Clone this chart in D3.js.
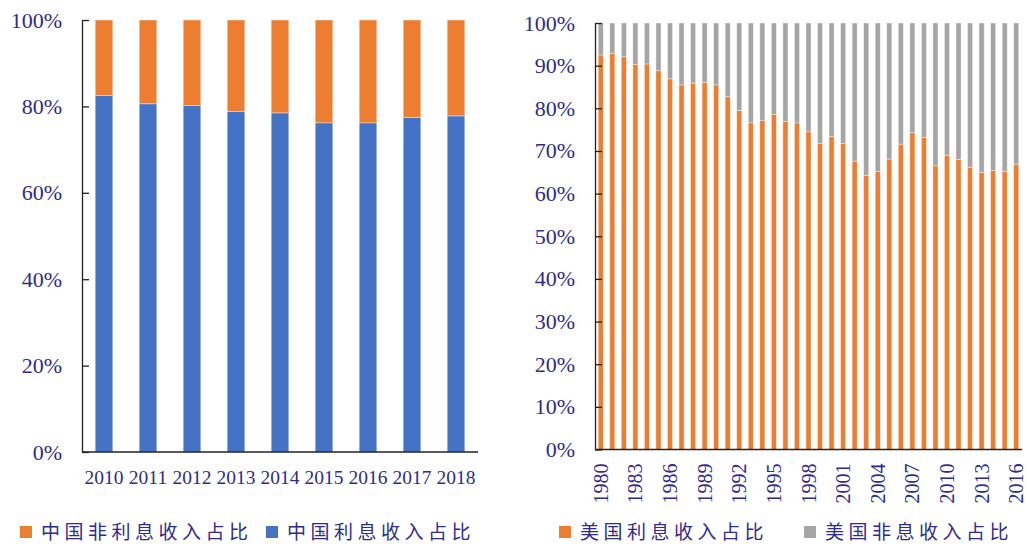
<!doctype html>
<html lang="zh">
<head>
<meta charset="utf-8">
<script src="https://cdn.jsdelivr.net/npm/d3@7/dist/d3.min.js"></script>
<style>
  body { margin: 0; background: #fff; }
  .tick text { font-family: "Liberation Serif", "DejaVu Serif", serif; fill: #2f2b8c; }
  .legend text { font-family: "Noto Sans CJK SC", sans-serif; fill: #2f2b8c; }
</style>
</head>
<body>
<script>
// Left chart: China
var cnYears = ['2010', '2011', '2012', '2013', '2014', '2015', '2016', '2017', '2018'];
var cnInterest = [82.5, 80.6, 80.2, 78.8, 78.5, 76.2, 76.2, 77.4, 77.8];
var cnNonInterest = [17.5, 19.4, 19.8, 21.2, 21.5, 23.8, 23.8, 22.6, 22.2];

// Right chart: US
var usYears = d3.range(1980, 2017).map(String);
var usInterest = [92.5, 92.9, 92.1, 90.3, 90.4, 88.8, 86.9, 85.5, 85.9, 86.1,
                  85.5, 82.8, 79.5, 76.6, 77.2, 78.6, 76.9, 76.6, 74.5, 71.7,
                  73.4, 71.7, 67.6, 64.3, 65.2, 68.1, 71.6, 74.3, 73.2, 66.5,
                  69.0, 68.0, 66.2, 65.0, 65.4, 65.2, 66.9];
var usNonInterest = [7.5, 7.1, 7.9, 9.7, 9.6, 11.2, 13.1, 14.5, 14.1, 13.9,
                     14.5, 17.2, 20.5, 23.4, 22.8, 21.4, 23.1, 23.4, 25.5, 28.3,
                     26.6, 28.3, 32.4, 35.7, 34.8, 31.9, 28.4, 25.7, 26.8, 33.5,
                     31.0, 32.0, 33.8, 35.0, 34.6, 34.8, 33.1];
var usLabelYears = ['1980', '1983', '1986', '1989', '1992', '1995', '1998', '2001',
                    '2004', '2007', '2010', '2013', '2016'];

var cnTicks = [0, 0.2, 0.4, 0.6, 0.8, 1];
var usTicks = [0, 0.1, 0.2, 0.3, 0.4, 0.5, 0.6, 0.7, 0.8, 0.9, 1];

var cnLegend = ['中国非利息收入占比', '中国利息收入占比'];
var usLegend = ['美国利息收入占比', '美国非息收入占比'];

var orange = '#ED7D31', blue = '#4472C4', gray = '#A5A5A5';

var svg = d3.select('body').append('svg')
    .attr('width', 1027)
    .attr('height', 544);

function drawChart(opt) {
    var rows = opt.years.map(function(y, i) {
        var r = { year: y };
        r.a = opt.bottom[i] / 100;
        r.b = opt.top[i] / 100;
        return r;
    });
    var stack = d3.stack().keys(['a', 'b'])(rows);

    var x = d3.scaleBand().domain(opt.years)
        .range([opt.left, opt.right])
        .paddingInner(opt.padInner)
        .paddingOuter(opt.padOuter);
    var y = d3.scaleLinear().domain([0, 1]).range([opt.bottomY, opt.topY]);

    var g = svg.append('g');

    g.selectAll('g.series')
        .data(stack)
        .enter().append('g')
        .attr('class', 'series')
        .attr('fill', function(d, i) { return opt.colors[i]; })
        .selectAll('rect')
        .data(function(d) { return d; })
        .enter().append('rect')
        .attr('x', function(d) { return x(d.data.year); })
        .attr('width', x.bandwidth())
        .attr('y', function(d) { return y(d[1]); })
        .attr('height', function(d) { return y(d[0]) - y(d[1]); })
        .attr('stroke', 'rgba(255,255,255,0.55)')
        .attr('stroke-width', 0.7);

    // y axis, ticks point inward
    var yAxis = d3.axisLeft(y)
        .tickValues(opt.yTicks)
        .tickFormat(d3.format('.0%'))
        .tickSizeInner(-7)
        .tickSizeOuter(0)
        .tickPadding(20);
    var ya = g.append('g')
        .attr('transform', 'translate(' + opt.left + ',0)')
        .call(yAxis);
    ya.selectAll('.tick text').style('font-size', '22px');
    ya.selectAll('line, path').attr('stroke', '#222').attr('stroke-width', 1.3);

    // x axis
    var xAxis = d3.axisBottom(x).tickSize(0).tickSizeOuter(0);
    if (opt.xTicks) xAxis.tickValues(opt.xTicks);
    var xa = g.append('g')
        .attr('transform', 'translate(0,' + opt.bottomY + ')')
        .call(xAxis);
    xa.select('path').attr('stroke', '#222').attr('stroke-width', 1.3)
        .attr('d', 'M' + opt.left + ',0H' + opt.right);
    if (opt.rotate) {
        xa.selectAll('.tick text')
            .style('font-size', '20px')
            .attr('text-anchor', 'end')
            .attr('transform', 'translate(0,14) rotate(-90)')
            .attr('x', 0).attr('y', 0).attr('dy', '0.35em');
    } else {
        xa.selectAll('.tick text')
            .style('font-size', '19.5px')
            .attr('y', 18);
    }

    // legend
    var lg = svg.append('g').attr('class', 'legend');
    var items = lg.selectAll('g')
        .data(opt.legend)
        .enter().append('g')
        .attr('transform', function(d, i) { return 'translate(' + opt.legendX[i] + ',' + opt.legendY + ')'; });
    items.append('rect')
        .attr('x', 0).attr('y', -6)
        .attr('width', 12).attr('height', 12)
        .attr('fill', function(d, i) { return opt.legendColors[i]; });
    items.append('text')
        .attr('x', 21)
        .attr('y', 0)
        .attr('dy', '0.36em')
        .style('font-size', '19px')
        .style('letter-spacing', '4.5px')
        .text(function(d) { return d; });
}

drawChart({
    years: cnYears, bottom: cnInterest, top: cnNonInterest,
    colors: [blue, orange],
    left: 82, right: 478, topY: 20, bottomY: 452,
    padInner: 0.6, padOuter: 0.3,
    yTicks: cnTicks,
    rotate: false,
    legend: cnLegend, legendColors: [orange, blue],
    legendX: [20, 266], legendY: 532
});

drawChart({
    years: usYears, bottom: usInterest, top: usNonInterest,
    colors: [orange, gray],
    left: 595, right: 1022, topY: 23, bottomY: 449.5,
    padInner: 0.56, padOuter: 0.28,
    yTicks: usTicks,
    xTicks: usLabelYears,
    rotate: true,
    legend: usLegend, legendColors: [orange, gray],
    legendX: [559, 804], legendY: 532
});
</script>
</body>
</html>
